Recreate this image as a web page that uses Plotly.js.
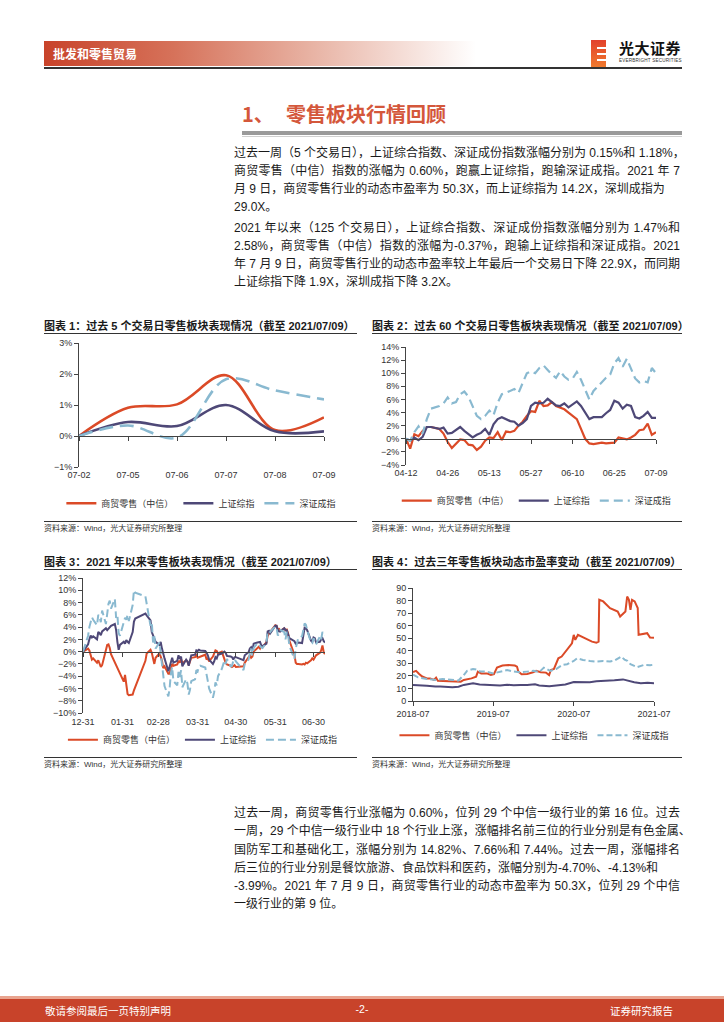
<!DOCTYPE html>
<html><head><meta charset="utf-8">
<script src="https://cdn.plot.ly/plotly-3.0.1.min.js"></script>
<style>
body{margin:0;background:#fff;}
#page{position:relative;width:724px;height:1024px;overflow:hidden;background:#fff;font-family:"Liberation Sans","Noto Sans CJK SC",sans-serif;color:#1a1a1a;}
.abs{position:absolute;}
.para{position:absolute;left:234px;width:446px;font-size:12px;line-height:18px;color:#1a1a1a;}
.para div{white-space:nowrap;}
.para .j{text-align:justify;text-align-last:justify;}
.ctitle{position:absolute;font-weight:bold;font-size:11px;color:#1a1a1a;white-space:nowrap;font-family:"Liberation Sans","Noto Sans CJK SC",sans-serif;}
.rule{position:absolute;height:1px;background:#333;}
.src{position:absolute;font-size:8px;color:#333;white-space:nowrap;}
.chart{position:absolute;}
</style></head><body>
<div id="page">
  <!-- header -->
  <div class="abs" style="left:44px;top:41px;width:432px;height:25px;background:linear-gradient(to right,#C8432A 0%,#D6725A 30%,#E8B3A4 62%,#FFFFFF 100%);"></div>
  <div class="abs" style="left:53px;top:45px;color:#fff;font-weight:bold;font-size:12px;font-family:'Noto Sans CJK SC';">批发和零售贸易</div>
  <div class="abs" style="left:44px;top:67px;width:638px;height:1.5px;background:#333;"></div>
  <div class="abs" style="left:591px;top:40px;width:15px;height:27px;background:linear-gradient(to bottom,#E2402B,#F07A2E);"></div>
  <div class="abs" style="left:597px;top:47px;width:9px;height:2px;background:#fff;"></div>
  <div class="abs" style="left:597px;top:53px;width:9px;height:2px;background:#fff;"></div>
  <div class="abs" style="left:597px;top:59px;width:9px;height:2px;background:#fff;"></div>
  <div class="abs" style="left:619px;top:37px;font-weight:bold;font-size:15px;color:#111;font-family:'Noto Sans CJK SC';letter-spacing:0.5px;">光大证券</div>
  <div class="abs" style="left:619px;top:58px;font-size:4.6px;color:#333;letter-spacing:0.2px;">EVERBRIGHT SECURITIES</div>

  <!-- section title -->
  <div class="abs" style="left:242px;top:99px;font-size:20px;font-weight:bold;color:#D4573B;font-family:'Noto Sans CJK SC';">1、</div>
  <div class="abs" style="left:286px;top:99px;font-size:20px;font-weight:bold;color:#D4573B;font-family:'Noto Sans CJK SC';">零售板块行情回顾</div>
  <div class="abs" style="left:242px;top:131px;width:440px;height:4px;background:#9a9a9a;"></div>
  <div class="abs" style="left:242px;top:136px;width:440px;height:1px;background:#d0d0d0;"></div>

  <!-- paragraph 1 -->
  <div class="para" style="top:144px;">
    <div class="j">过去一周（5 个交易日），上证综合指数、深证成份指数涨幅分别为 0.15%和 1.18%，</div>
    <div class="j">商贸零售（中信）指数的涨幅为 0.60%，跑赢上证综指，跑输深证成指。2021 年 7</div>
    <div>月 9 日，商贸零售行业的动态市盈率为 50.3X，而上证综指为 14.2X，深圳成指为</div>
    <div>29.0X。</div>
  </div>
  <div class="para" style="top:219px;">
    <div class="j">2021 年以来（125 个交易日），上证综合指数、深证成份指数涨幅分别为 1.47%和</div>
    <div class="j">2.58%，商贸零售（中信）指数的涨幅为-0.37%，跑输上证综指和深证成指。2021</div>
    <div class="j">年 7 月 9 日，商贸零售行业的动态市盈率较上年最后一个交易日下降 22.9X，而同期</div>
    <div>上证综指下降 1.9X，深圳成指下降 3.2X。</div>
  </div>

  <!-- chart titles -->
  <div class="ctitle" style="left:44px;top:317px;">图表 1：过去 5 个交易日零售板块表现情况（截至 2021/07/09）</div>
  <div class="rule" style="left:44px;top:333px;width:313px;"></div>
  <div class="ctitle" style="left:372px;top:317px;">图表 2：过去 60 个交易日零售板块表现情况（截至 2021/07/09）</div>
  <div class="rule" style="left:372px;top:333px;width:310px;"></div>
  <div id="c1" class="chart" style="left:44px;top:336px;width:313px;height:184px;"></div>
  <div id="c2" class="chart" style="left:372px;top:336px;width:310px;height:184px;"></div>
  <div class="rule" style="left:44px;top:521px;width:313px;"></div>
  <div class="src" style="left:44px;top:522px;">资料来源：Wind，光大证券研究所整理</div>
  <div class="rule" style="left:372px;top:521px;width:310px;"></div>
  <div class="src" style="left:372px;top:522px;">资料来源：Wind，光大证券研究所整理</div>

  <div class="ctitle" style="left:44px;top:553px;">图表 3：2021 年以来零售板块表现情况（截至 2021/07/09）</div>
  <div class="rule" style="left:44px;top:569px;width:313px;"></div>
  <div class="ctitle" style="left:372px;top:553px;">图表 4：过去三年零售板块动态市盈率变动（截至 2021/07/09）</div>
  <div class="rule" style="left:372px;top:569px;width:310px;"></div>
  <div id="c3" class="chart" style="left:44px;top:572px;width:313px;height:183px;"></div>
  <div id="c4" class="chart" style="left:372px;top:572px;width:310px;height:183px;"></div>
  <div class="rule" style="left:44px;top:757px;width:313px;"></div>
  <div class="src" style="left:44px;top:758px;">资料来源：Wind，光大证券研究所整理</div>
  <div class="rule" style="left:372px;top:757px;width:310px;"></div>
  <div class="src" style="left:372px;top:758px;">资料来源：Wind，光大证券研究所整理</div>

  <!-- paragraph 3 -->
  <div class="para" style="top:804px;line-height:18.3px;">
    <div class="j">过去一周，商贸零售行业涨幅为 0.60%，位列 29 个中信一级行业的第 16 位。过去</div>
    <div class="j">一周，29 个中信一级行业中 18 个行业上涨，涨幅排名前三位的行业分别是有色金属、</div>
    <div class="j">国防军工和基础化工，涨幅分别为 14.82%、7.66%和 7.44%。过去一周，涨幅排名</div>
    <div>后三位的行业分别是餐饮旅游、食品饮料和医药，涨幅分别为-4.70%、-4.13%和</div>
    <div class="j">-3.99%。2021 年 7 月 9 日，商贸零售行业的动态市盈率为 50.3X，位列 29 个中信</div>
    <div>一级行业的第 9 位。</div>
  </div>

  <!-- footer -->
  <div class="abs" style="left:0;top:996px;width:724px;height:3px;background:#E9A48F;"></div>
  <div class="abs" style="left:0;top:999px;width:724px;height:23px;background:#C8432A;"></div>
  <div class="abs" style="left:45px;top:1003px;color:#fff;font-size:10.5px;font-family:'Noto Sans CJK SC';">敬请参阅最后一页特别声明</div>
  <div class="abs" style="left:352px;top:1003px;width:20px;text-align:center;color:#fff;font-size:10.5px;">-2-</div>
  <div class="abs" style="left:610px;top:1003px;color:#fff;font-size:10.5px;font-family:'Noto Sans CJK SC';">证券研究报告</div>
</div>

<script>
// ---------------- DATA ----------------
const seriesNames = ['商贸零售（中信）', '上证综指', '深证成指'];

// Chart 1: past 5 trading days (%)
const c1Dates = ['07-02', '07-05', '07-06', '07-07', '07-08', '07-09'];
const c1Retail = [0, 0.91, 1.02, 1.96, 0.19, 0.60];
const c1SH = [0, 0.45, 0.32, 1.00, 0.15, 0.15];
const c1SZ = [0, 0.34, -0.05, 1.83, 1.47, 1.18];

// Chart 2: past 60 trading days (%)
const c2Dates = ['04-12','04-13','04-14','04-15','04-16','04-19','04-20','04-21','04-22','04-23','04-26','04-27','04-28','04-29','04-30',
  '05-06','05-07','05-10','05-11','05-12','05-13','05-14','05-17','05-18','05-19','05-20','05-21','05-24','05-25','05-26','05-27','05-28','05-31',
  '06-01','06-02','06-03','06-04','06-07','06-08','06-09','06-10','06-11','06-15','06-16','06-17','06-18','06-21','06-22','06-23','06-24','06-25','06-28','06-29','06-30',
  '07-01','07-02','07-05','07-06','07-07','07-08','07-09'];
const c2Ticks = ['04-12', '04-26', '05-13', '05-27', '06-10', '06-25', '07-09'];
const c2Retail = [0,-1.5,0.7,0.4,1.2,1.8,1.8,1.6,1.5,0.8,-0.5,-1.4,-0.8,-0.1,-0.2,
  -0.9,-1.0,-1.7,-1.2,-0.3,0.2,0.1,1.0,-0.2,1.1,1.0,1.2,2.0,2.6,3.5,4.2,4.1,5.8,
  5.0,5.1,5.6,5.0,4.8,4.5,4.0,3.5,3.0,1.5,0.0,-0.7,-0.8,-0.7,-0.6,-0.7,-0.7,-0.6,0.2,0.0,-0.1,
  0.2,0.6,1.3,1.4,2.3,0.6,1.0];
const c2SH = [0,-0.3,0.2,-0.2,0.3,1.8,1.8,1.6,1.5,1.7,0.8,0.9,1.3,1.8,1.2,
  0.7,0.2,0.6,0.9,1.5,0.6,2.2,3.0,3.3,3.0,2.7,2.6,2.0,2.4,3.0,5.0,5.5,5.4,
  5.5,6.1,5.6,5.1,5.0,5.4,4.8,5.2,5.7,5.0,4.0,3.0,3.3,3.3,3.3,3.9,4.4,5.8,5.5,4.6,5.2,
  5.0,3.3,3.1,3.5,4.1,3.2,3.2];
const c2SZ = [0,-0.3,1.0,1.9,0.8,3.0,4.6,4.8,5.0,5.4,6.3,5.4,5.6,6.8,7.2,
  6.4,5.0,3.5,3.0,3.5,4.3,3.6,5.5,6.8,7.0,7.3,7.6,7.0,8.5,10.0,10.3,10.0,10.8,
  11.2,10.5,9.8,9.3,10.3,9.5,9.0,9.2,10.2,9.0,7.5,6.0,7.3,8.0,8.6,9.3,9.8,11.5,12.3,11.0,12.2,
  10.8,9.2,8.6,8.8,8.6,10.8,10.0];

// Chart 3: year to date (%), dates of 2021 (12-31 is 2020)
const c3Dates = ['12-31','01-04','01-05','01-06','01-07','01-08','01-11','01-12','01-13','01-14','01-15','01-18','01-19','01-20','01-21','01-22','01-25','01-26','01-27','01-28','01-29',
  '02-01','02-02','02-03','02-04','02-05','02-08','02-09','02-10','02-18','02-19','02-22','02-23','02-24','02-25','02-26',
  '03-01','03-02','03-03','03-04','03-05','03-08','03-09','03-10','03-11','03-12','03-15','03-16','03-17','03-18','03-19','03-22','03-23','03-24','03-25','03-26','03-29','03-30','03-31',
  '04-01','04-02','04-06','04-07','04-08','04-09','04-12','04-13','04-14','04-15','04-16','04-19','04-20','04-21','04-22','04-23','04-26','04-27','04-28','04-29','04-30',
  '05-06','05-07','05-10','05-11','05-12','05-13','05-14','05-17','05-18','05-19','05-20','05-21','05-24','05-25','05-26','05-27','05-28','05-31',
  '06-01','06-02','06-03','06-04','06-07','06-08','06-09','06-10','06-11','06-15','06-16','06-17','06-18','06-21','06-22','06-23','06-24','06-25','06-28','06-29','06-30',
  '07-01','07-02','07-05','07-06','07-07','07-08','07-09'];
const c3TickDates = ['2020-12-31','2021-01-31','2021-02-28','2021-03-31','2021-04-30','2021-05-31','2021-06-30'];
const c3TickText = ['12-31','01-31','02-28','03-31','04-30','05-31','06-30'];
const c3Retail = [0,
  0.5,0.2,-0.8,-1.3,-1.1,-1.8,-1.4,-2.1,-2.5,-2.2,0.2,1.1,1.2,0.6,-0.4,-1.8,-2.3,-2.6,-3.0,-3.5,
  -4.9,-3.8,-5.4,-6.9,-7.1,-7.0,-6.3,-5.8,-1.5,-0.3,0.3,-0.2,-1.1,-2.0,-1.0,
  -0.3,-0.8,-1.5,-2.7,-2.4,-3.6,-3.6,-2.8,-2.0,-2.3,-2.1,-1.5,-1.8,-1.2,-1.9,-1.4,-1.6,-2.2,-1.7,-1.0,-0.9,-0.6,-1.0,
  -0.9,-0.8,-0.5,-1.3,-1.0,-1.6,-0.8,-0.3,0.2,0.1,-0.3,0.0,-0.6,-1.5,-1.8,-2.1,-2.3,-2.5,-2.4,-2.2,-2.5,
  -2.4,-1.8,-1.0,-0.6,-1.0,-0.8,0.0,0.5,0.8,0.5,0.9,0.8,1.5,2.6,3.0,3.2,3.5,4.3,
  4.2,3.6,3.7,3.4,3.8,3.5,3.6,3.0,1.8,-0.5,-1.8,-2.0,-2.0,-2.1,-2.0,-2.1,-1.8,-1.9,-1.4,-1.1,-1.3,
  -0.8,-0.6,-0.2,0.2,1.0,-0.1,-0.4];
const c3SH = [0,
  1.2,2.0,2.6,2.3,2.5,2.0,3.2,3.0,2.7,3.3,3.8,3.5,3.8,4.0,4.2,4.5,3.5,1.6,0.3,1.1,
  1.6,1.3,1.9,1.6,1.4,3.2,4.9,5.4,6.2,5.9,5.1,3.2,2.7,2.2,1.6,
  1.1,1.6,0.5,-0.6,-1.1,-3.2,-2.5,-1.5,-1.0,-1.8,-1.5,-0.6,-1.2,-0.8,-2.4,-1.3,-1.6,-2.3,-1.6,-0.6,-0.5,0.2,0.1,
  0.3,0.2,0.1,-0.2,-0.6,-1.3,-2.0,-1.6,-0.9,-1.1,-0.5,-0.3,-0.1,0.0,-0.2,-0.7,-0.8,-0.9,-1.3,-0.9,-0.9,
  -1.4,-0.6,-0.1,0.5,0.7,0.2,1.3,1.5,1.5,1.6,1.0,0.9,1.3,3.3,3.4,3.0,3.3,4.2,
  4.2,3.5,3.3,3.3,3.8,3.5,3.5,3.0,2.2,1.7,1.3,1.4,1.5,1.4,2.4,3.9,3.8,3.5,1.8,1.6,2.3,
  2.2,1.5,1.6,2.0,2.2,1.7,1.5];
const c3SZ = [0,
  2.6,4.0,5.0,5.6,5.2,4.3,6.0,5.6,4.8,6.7,4.5,6.3,7.8,8.3,7.0,8.6,5.5,6.0,3.0,2.6,
  4.5,5.5,5.2,6.0,5.0,7.6,10.0,9.6,9.0,7.8,4.2,4.8,1.5,2.5,0.5,
  1.5,-0.4,-1.6,-4.2,-5.6,-7.3,-6.0,-3.5,-2.5,-4.8,-5.5,-3.3,-4.2,-3.0,-5.8,-4.5,-5.2,-7.0,-6.2,-4.8,-4.5,-3.0,-3.2,
  -2.5,-2.3,-2.6,-3.5,-4.8,-6.0,-7.5,-6.6,-5.0,-5.5,-4.0,-2.8,-2.2,-1.5,-2.0,-1.2,-2.4,-2.3,-1.5,-1.2,-1.6,
  -3.0,-2.0,-1.3,-0.3,0.5,-0.6,0.6,1.4,1.1,1.0,0.7,0.6,1.5,3.2,3.4,3.2,3.5,4.1,
  3.8,2.6,3.0,3.5,3.2,2.0,3.2,2.8,1.0,-1.2,0.5,1.5,2.2,2.5,3.6,4.6,4.4,3.5,1.5,1.4,2.2,
  1.7,1.2,2.5,2.0,3.2,2.9,2.6];

// Chart 4: dynamic PE over three years
const c4TickDates = ['2018-07-09','2019-07-09','2020-07-09','2021-07-09'];
const c4TickText = ['2018-07','2019-07','2020-07','2021-07'];
const c4RetailDates = ['2018-07-09','2018-07-23','2018-08-06','2018-08-20','2018-09-10','2018-09-25','2018-10-12','2018-10-22','2018-10-30','2018-11-20','2018-12-20',
  '2019-01-15','2019-02-11','2019-02-25','2019-03-20','2019-04-01','2019-04-22','2019-04-30','2019-05-15','2019-06-10','2019-06-28','2019-07-12','2019-07-26','2019-08-20','2019-09-16','2019-10-15','2019-10-25','2019-10-31','2019-11-15','2019-12-10',
  '2020-01-06','2020-01-20','2020-02-10','2020-03-05','2020-03-19','2020-03-27','2020-04-10','2020-04-30','2020-05-15','2020-06-01','2020-06-19','2020-07-01','2020-07-09','2020-07-16','2020-07-28','2020-08-14','2020-09-10','2020-09-30','2020-10-20','2020-10-30','2020-11-02','2020-11-20','2020-12-21',
  '2021-01-11','2021-01-25','2021-02-05','2021-02-22','2021-03-01','2021-03-09','2021-03-17','2021-03-24','2021-03-31','2021-04-12','2021-04-26','2021-04-30','2021-05-20','2021-06-08','2021-06-21','2021-07-09'];
const c4Retail = [23.0,24.0,21.5,19.5,18.0,18.0,16.8,18.6,16.2,16.0,15.8,
  15.6,15.4,16.8,17.3,18.0,19.4,23.4,22.0,22.0,20.7,21.3,26.6,28.2,28.7,28.2,27.4,23.4,21.3,21.5,
  22.9,24.0,22.9,22.6,20.7,24.7,25.5,34.0,35.4,39.4,43.4,46.0,52.7,48.7,52.7,51.3,49.5,47.3,46.5,47.3,80.6,79.3,74.0,
  72.6,71.3,67.3,70.0,71.3,83.2,80.6,72.6,80.6,79.3,74.0,52.7,53.2,54.0,50.5,50.3];
const c4SHDates = ['2018-07-09','2018-08-10','2018-09-10','2018-10-19','2018-11-10',
  '2019-01-04','2019-02-01','2019-02-25','2019-04-08','2019-05-08','2019-06-06','2019-07-09','2019-08-09','2019-09-10','2019-10-10','2019-11-10','2019-12-10',
  '2020-01-15','2020-02-03','2020-03-20','2020-04-20','2020-06-01','2020-07-09','2020-08-20','2020-09-20','2020-10-20','2020-12-10',
  '2021-01-10','2021-02-18','2021-03-10','2021-04-10','2021-05-10','2021-06-10','2021-07-09'];
const c4SH = [12.8,12.6,12.2,11.5,11.6,
  11.0,11.3,12.8,14.1,13.2,12.8,12.5,12.3,13.0,12.6,12.8,12.7,
  13.3,12.4,11.8,12.5,13.2,15.2,15.4,15.0,15.8,16.0,
  16.5,17.2,16.2,15.0,14.2,14.6,14.2];
const c4SZDates = ['2018-07-09','2018-08-01','2018-09-10','2018-10-19','2018-11-20',
  '2019-01-03','2019-02-01','2019-02-25','2019-03-12','2019-04-08','2019-04-25','2019-05-10','2019-06-10','2019-07-09','2019-08-09','2019-09-10','2019-10-09','2019-11-08','2019-12-09',
  '2020-01-09','2020-02-03','2020-02-24','2020-03-10','2020-03-24','2020-04-20','2020-05-18','2020-06-09','2020-07-09','2020-07-24','2020-08-20','2020-09-21','2020-10-20','2020-11-20','2020-12-21',
  '2021-01-11','2021-01-25','2021-02-10','2021-02-25','2021-03-10','2021-03-24','2021-04-23','2021-05-24','2021-06-21','2021-07-09'];
const c4SZ = [21.0,18.8,17.6,16.8,17.5,
  16.6,16.3,20.7,24.0,25.5,25.0,23.5,23.4,22.0,23.5,24.7,23.5,22.8,23.4,
  24.0,23.0,26.6,25.3,24.0,25.5,28.7,29.3,31.9,34.0,32.7,31.8,31.4,31.9,31.4,
  32.2,33.5,35.4,33.0,32.0,29.3,27.0,28.7,28.5,29.0];

// ---------------- STYLE ----------------
const RED = '#DB4A27', PURPLE = '#4E4877', LBLUE = '#89B9D0';
const FONT = 'Liberation Sans, Noto Sans CJK SC, sans-serif';
const CJK = 'Noto Sans CJK SC, Liberation Sans, sans-serif';
const AX = '#444';

function traces(x, ys, widths, dash, spline) {
  const colors = [RED, PURPLE, LBLUE];
  return ys.map((y, i) => ({
    x: Array.isArray(x[0]) ? x[i] : x, y: y, name: seriesNames[i], type: 'scatter', mode: 'lines',
    line: Object.assign({color: colors[i], width: widths[i], dash: i === 2 ? dash : 'solid'},
      spline ? {shape: 'spline', smoothing: 1} : {})
  }));
}

function layout(w, h, m, xaxis, yaxis, legX, legY) {
  return {
    width: w, height: h, margin: Object.assign({autoexpand: false, pad: 0}, m),
    paper_bgcolor: '#fff', plot_bgcolor: '#fff', showlegend: true,
    font: {family: FONT, size: 9, color: '#333'},
    xaxis: Object.assign({showline: true, linecolor: AX, linewidth: 1, ticks: 'outside', ticklen: 4, tickcolor: AX,
      showgrid: false, zeroline: false, tickfont: {family: FONT, size: 9, color: '#333'}}, xaxis),
    yaxis: Object.assign({showline: true, linecolor: AX, linewidth: 1, ticks: 'outside', ticklen: 4, tickcolor: AX,
      showgrid: false, zeroline: false, tickfont: {family: FONT, size: 9, color: '#333'}}, yaxis),
    legend: {orientation: 'h', x: legX, xanchor: 'left', y: legY, yanchor: 'middle',
      font: {family: CJK, size: 9, color: '#333'}, bgcolor: 'rgba(0,0,0,0)', itemwidth: 30}
  };
}
const cfg = {staticPlot: true, displayModeBar: false};

// Chart 1
Plotly.newPlot('c1', traces(c1Dates, [c1Retail, c1SH, c1SZ], [2.6, 2.6, 2.6], '14px,7px', true),
  layout(313, 184, {l: 35, r: 33, t: 7, b: 53},
    {type: 'category', range: [0, 5], anchor: 'free', position: 0.25, ticklabelstandoff: 26},
    {range: [-1, 3], dtick: 1, ticksuffix: '%'}, -0.072, -0.292), cfg);

// Chart 2
Plotly.newPlot('c2', traces(c2Dates, [c2Retail, c2SH, c2SZ], [2.2, 2.2, 2.2], '9px,5px', false),
  layout(310, 184, {l: 34, r: 26, t: 11, b: 55},
    {type: 'category', range: [0, c2Dates.length - 1], tickmode: 'array', tickvals: c2Ticks, ticktext: c2Ticks,
     anchor: 'free', position: 4 / 18, ticklabelstandoff: 21},
    {range: [-4, 14], dtick: 2, ticksuffix: '%'}, -0.037, -0.302), cfg);

// Chart 3
const c3Full = c3Dates.map(d => (d === '12-31' ? '2020-' : '2021-') + d);
Plotly.newPlot('c3', traces(c3Full, [c3Retail, c3SH, c3SZ], [2, 2, 2], '8px,4px', false),
  layout(313, 183, {l: 39, r: 32, t: 6, b: 42},
    {type: 'date', range: ['2020-12-31', '2021-07-09'], tickmode: 'array', tickvals: c3TickDates, ticktext: c3TickText,
     anchor: 'free', position: 10 / 22, ticklabelstandoff: 58},
    {range: [-10, 12], dtick: 2, ticksuffix: '%'}, -0.083, -0.199), cfg);

// Chart 4
Plotly.newPlot('c4', traces([c4RetailDates, c4SHDates, c4SZDates], [c4Retail, c4SH, c4SZ], [2, 2, 2], '6px,3px', false),
  layout(310, 183, {l: 41, r: 28, t: 16, b: 54},
    {type: 'date', range: ['2018-07-09', '2021-07-09'], tickmode: 'array', tickvals: c4TickDates, ticktext: c4TickText},
    {range: [0, 90], dtick: 10}, -0.077, -0.302), cfg);
</script>
</body></html>
